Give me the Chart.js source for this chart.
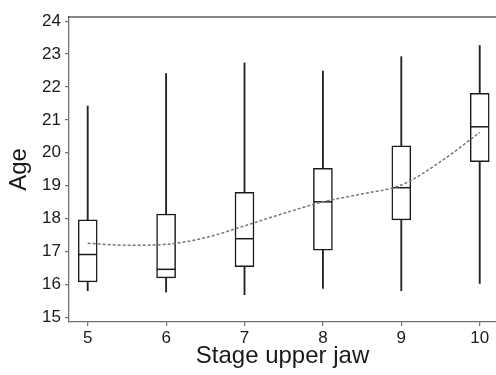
<!DOCTYPE html>
<html>
<head>
<meta charset="utf-8">
<script src="https://cdn.jsdelivr.net/npm/chart.js@4/dist/chart.umd.min.js"></script>
<style>
  html, body { margin: 0; padding: 0; background: #fff; }
  #wrap { width: 496px; height: 375px; position: relative; }
</style>
</head>
<body>
<div id="wrap"><canvas id="c" width="496" height="375"></canvas></div>
<script>
// Data
const stages      = [5, 6, 7, 8, 9, 10];
const whiskerLow  = [15.81, 15.77, 15.69, 15.88, 15.81, 16.03];
const q1          = [16.08, 16.20, 16.54, 17.04, 17.96, 19.73];
const medians     = [16.91, 16.46, 17.39, 18.51, 18.94, 20.79];
const q3          = [17.96, 18.14, 18.80, 19.53, 20.21, 21.81];
const whiskerHigh = [21.42, 22.41, 22.73, 22.48, 22.92, 23.26];
const curveX      = [5, 5.5, 6, 6.5, 7, 7.5, 8, 8.5, 9, 9.5, 10];
const curveY      = [17.25, 17.19, 17.22, 17.42, 17.78, 18.16, 18.51, 18.75, 19.02, 19.73, 20.62];
const yTicks      = [15, 16, 17, 18, 19, 20, 21, 22, 23, 24];
const xTitle = 'Stage upper jaw';
const yTitle = 'Age';

const FONT = "'Liberation Sans', Arial, Helvetica, sans-serif";
const INK = '#1a1a1a';
const AXIS = '#707070';

const topFrame = {
  id: 'topFrame',
  afterDraw(chart) {
    const {ctx, chartArea} = chart;
    ctx.save();
    ctx.strokeStyle = '#111';
    ctx.lineWidth = 1.2;
    ctx.beginPath();
    ctx.moveTo(chartArea.left - 0.6, chartArea.top);
    ctx.lineTo(chartArea.right + 2, chartArea.top);
    ctx.stroke();
    ctx.restore();
  }
};

new Chart(document.getElementById('c'), {
  type: 'bar',
  data: {
    datasets: [
      {
        type: 'line',
        label: 'trend',
        data: curveX.map((x, i) => ({x: x, y: curveY[i]})),
        borderColor: '#777777',
        borderWidth: 1.5,
        borderDash: [3, 2],
        pointRadius: 0,
        fill: false,
        cubicInterpolationMode: 'monotone',
        order: 0
      },
      {
        type: 'line',
        label: 'median',
        data: stages.map((x, i) => ({x: x, y: medians[i]})),
        showLine: false,
        pointStyle: 'line',
        pointRadius: 9.3,
        pointBorderWidth: 1.5,
        pointBorderColor: INK,
        borderColor: INK,
        order: 1
      },
      {
        label: 'box',
        data: stages.map((x, i) => ({x: x, y: [q1[i], q3[i]]})),
        backgroundColor: '#ffffff',
        borderColor: INK,
        borderWidth: 1.5,
        borderSkipped: false,
        barThickness: 19,
        grouped: false,
        order: 2
      },
      {
        label: 'whisker',
        data: stages.map((x, i) => ({x: x, y: [whiskerLow[i], whiskerHigh[i]]})),
        backgroundColor: '#222222',
        borderWidth: 0,
        barThickness: 1.2,
        grouped: false,
        order: 3
      }
    ]
  },
  options: {
    responsive: false,
    animation: false,
    events: [],
    layout: { autoPadding: false, padding: { top: 17, right: 0, left: 0, bottom: 0 } },
    plugins: { legend: { display: false }, tooltip: { enabled: false } },
    scales: {
      x: {
        type: 'linear',
        offset: false,
        min: 4.7615,
        max: 10.2077,
        afterFit(s) { s.height = 53; s.paddingRight = 0; s.paddingLeft = 0; },
        afterBuildTicks(s) { s.ticks = stages.map(v => ({value: v})); },
        grid: { display: true, offset: false, drawOnChartArea: false, drawTicks: true, tickLength: 4, color: AXIS, lineWidth: 1.2 },
        border: { display: true, color: AXIS, width: 1.3 },
        ticks: { color: INK, font: { family: FONT, size: 17 }, padding: 2, maxRotation: 0, autoSkip: false,
                 callback: v => String(v) },
        title: { display: true, text: xTitle, color: INK, font: { family: FONT, size: 24 }, padding: { top: 0, bottom: 4 } }
      },
      y: {
        type: 'linear',
        min: 14.86,
        max: 24.125,
        afterFit(s) { s.width = 69; },
        afterBuildTicks(s) { s.ticks = yTicks.map(v => ({value: v})); },
        grid: { display: true, drawOnChartArea: false, drawTicks: true, tickLength: 4, color: AXIS, lineWidth: 1.2 },
        border: { display: true, color: AXIS, width: 1.3 },
        ticks: { color: INK, font: { family: FONT, size: 17 }, padding: 4, callback: v => String(v) },
        title: { display: true, text: yTitle, color: INK, font: { family: FONT, size: 24 }, padding: { top: 5, bottom: 0 } }
      }
    }
  },
  plugins: [topFrame]
});
</script>
</body>
</html>
